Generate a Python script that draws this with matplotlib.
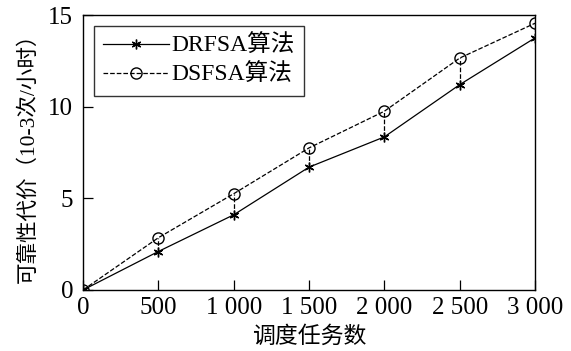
import numpy as np
import matplotlib.pyplot as plt

plt.rcParams['font.family'] = ['Liberation Serif', 'Noto Sans CJK SC']
plt.rcParams['axes.unicode_minus'] = False

tasks = [0, 500, 1000, 1500, 2000, 2500, 3000]
drfsa = [0, 2.1, 4.1, 6.7, 8.35, 11.2, 13.75]
dsfsa = [0, 2.85, 5.25, 7.75, 9.75, 12.65, 14.55]
xticklabels = ['0', '500', '1 000', '1 500', '2 000', '2 500', '3 000']

fig = plt.figure(figsize=(5.71, 3.51), dpi=100)
ax = fig.add_axes([83/571, 1 - 290/351, (535-83)/571, (290-15)/351])

# vertical connectors between the two series
ax.vlines(tasks, drfsa, dsfsa, colors='k', linestyles='--', linewidth=0.9)

ax.plot(tasks, drfsa, '-', color='k', marker=(6, 2, 0), markersize=7,
        linewidth=0.9, label='DRFSA算法')
ax.plot(tasks, dsfsa, '--', color='k', marker='o', markerfacecolor='none',
        markersize=8, linewidth=0.9, label='DSFSA算法')

ax.set_xlim(0, 3000)
ax.set_ylim(0, 15)
ax.set_xticks(tasks)
ax.set_xticklabels(xticklabels)
ax.set_yticks([0, 5, 10, 15])
ax.tick_params(direction='in', length=7, labelsize=18, width=0.9)
ax.tick_params(axis='x', pad=5)
ax.tick_params(axis='y', pad=7)
for s in ax.spines.values():
    s.set_linewidth(1.0)

ax.set_xlabel('调度任务数', fontsize=16.5, labelpad=5)
ax.set_ylabel('可靠性代价（10-3次/小时）', fontsize=15.5, labelpad=7)

leg = ax.legend(loc='upper left', fontsize=17, frameon=True, fancybox=False,
                edgecolor='k', handlelength=2.8, handletextpad=0.1,
                borderpad=0.4, labelspacing=0.3, borderaxespad=0.45)
leg.get_frame().set_linewidth(1.0)

fig.savefig('out.png', dpi=100)
